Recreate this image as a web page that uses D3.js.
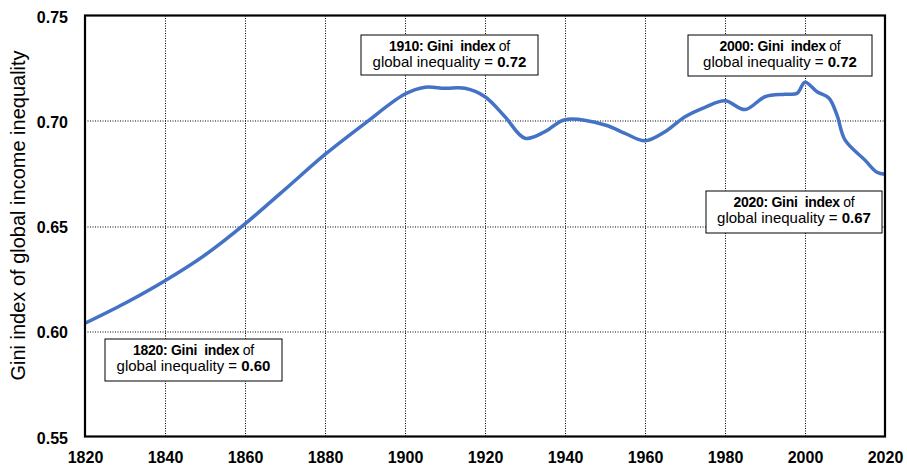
<!DOCTYPE html>
<html>
<head>
<meta charset="utf-8">
<script src="https://cdn.jsdelivr.net/npm/d3@7"></script>
<style>
  body { margin: 0; background: #fff; }
  svg { font-family: "Liberation Sans", Arial, sans-serif; }
</style>
</head>
<body>
<div id="chart"></div>
<script>
// Data
var years = [1820, 1830, 1840, 1850, 1860, 1870, 1880, 1890, 1900, 1905, 1910, 1915, 1920, 1925, 1930, 1935, 1940, 1950, 1955, 1960, 1965, 1970, 1975, 1980, 1985, 1990, 1995, 1998, 2000, 2003, 2006, 2008, 2010, 2015, 2018, 2020];
var gini = [0.6038, 0.6133, 0.624, 0.6362, 0.651, 0.6674, 0.684, 0.6988, 0.7127, 0.7159, 0.7154, 0.7154, 0.7114, 0.7019, 0.6917, 0.6948, 0.7005, 0.698, 0.694, 0.6905, 0.6948, 0.7019, 0.7064, 0.7095, 0.7053, 0.7114, 0.7126, 0.713, 0.7183, 0.7138, 0.7107, 0.7027, 0.6909, 0.6813, 0.6755, 0.6746];
var xTicks = [1820, 1840, 1860, 1880, 1900, 1920, 1940, 1960, 1980, 2000, 2020];
var yTicks = [0.55, 0.60, 0.65, 0.70, 0.75];
var notes = [
  {year: 1910, value: "0.72"},
  {year: 2000, value: "0.72"},
  {year: 2020, value: "0.67"},
  {year: 1820, value: "0.60"}
];
// annotation box placement (px inside plot)
var noteBoxes = [
  {x: 276, y: 19.5, w: 177, h: 40},
  {x: 603, y: 19.5, w: 184, h: 41},
  {x: 621, y: 175.5, w: 176, h: 42},
  {x: 20, y: 323.5, w: 177, h: 42}
];

var margin = {top: 15.5, right: 22, bottom: 32.5, left: 85},
    width = 907 - margin.left - margin.right,
    height = 469 - margin.top - margin.bottom;

var svg = d3.select("#chart")
  .append("svg")
    .attr("width", 907)
    .attr("height", 469)
  .append("g")
    .attr("transform", "translate(" + margin.left + "," + margin.top + ")");

var x = d3.scaleLinear().domain([1820, 2020]).range([0, width]);
var y = d3.scaleLinear().domain([0.55, 0.75]).range([height, 0]);

// grid
svg.append("g")
  .selectAll("line")
  .data(xTicks.slice(1, -1))
  .enter().append("line")
    .attr("x1", function(d) { return Math.round(x(d)) + 0.5; })
    .attr("x2", function(d) { return Math.round(x(d)) + 0.5; })
    .attr("y1", 0).attr("y2", height)
    .attr("stroke", "#000")
    .attr("stroke-dasharray", "1,1.5");
svg.append("g")
  .selectAll("line")
  .data(yTicks.slice(1, -1))
  .enter().append("line")
    .attr("y1", function(d) { return Math.round(y(d)) + 0.5; })
    .attr("y2", function(d) { return Math.round(y(d)) + 0.5; })
    .attr("x1", 0).attr("x2", width)
    .attr("stroke", "#000")
    .attr("stroke-dasharray", "1,1.5");

// line
var line = d3.line()
  .x(function(d, i) { return x(years[i]); })
  .y(function(d) { return y(d); })
  .curve(d3.curveCatmullRom.alpha(0.5));

svg.append("path")
  .datum(gini)
  .attr("fill", "none")
  .attr("stroke", "#4472C4")
  .attr("stroke-width", 3.5)
  .attr("d", line);

// frame
svg.append("rect")
  .attr("x", 0).attr("y", 0)
  .attr("width", width).attr("height", height)
  .attr("fill", "none")
  .attr("stroke", "#000")
  .attr("stroke-width", 2.2);

// axes
var xAxis = svg.append("g")
  .attr("transform", "translate(0," + height + ")")
  .call(d3.axisBottom(x).tickValues(xTicks).tickFormat(d3.format("d")).tickSize(0).tickPadding(15));
var yAxis = svg.append("g")
  .call(d3.axisLeft(y).tickValues(yTicks).tickFormat(d3.format(".2f")).tickSize(0).tickPadding(17));
[xAxis, yAxis].forEach(function(a) {
  a.select(".domain").remove();
  a.selectAll("text")
    .attr("font-family", "'Liberation Sans', Arial, sans-serif")
    .style("font-size", "16px")
    .style("font-weight", "bold")
    .attr("fill", "#000");
});
yAxis.selectAll("text").attr("dy", "0.42em");

// y axis label
svg.append("text")
  .attr("transform", "rotate(-90)")
  .attr("x", -200)
  .attr("y", -60)
  .attr("text-anchor", "middle")
  .style("font-size", "20px")
  .attr("fill", "#000")
  .text("Gini index of global income inequality");

// annotation boxes
notes.forEach(function(n, i) {
  var b = noteBoxes[i];
  var g = svg.append("g");
  g.append("rect")
    .attr("x", b.x).attr("y", b.y)
    .attr("width", b.w).attr("height", b.h)
    .attr("fill", "#fff")
    .attr("stroke", "#000")
    .attr("stroke-width", 1);
  var t1 = g.append("text")
    .attr("x", b.x + b.w / 2)
    .attr("y", b.y + 15.8)
    .attr("text-anchor", "middle")
    .style("letter-spacing", "-0.3px")
    .style("font-size", "14px");
  t1.append("tspan").style("font-weight", "bold").text(n.year + ": Gini\u00a0 index");
  t1.append("tspan").text(" of");
  var t2 = g.append("text")
    .attr("x", b.x + b.w / 2)
    .attr("y", b.y + 32.3)
    .attr("text-anchor", "middle")
    .style("font-size", "15px");
  t2.append("tspan").text("global inequality = ");
  t2.append("tspan").style("font-weight", "bold").text(n.value);
});
</script>
</body>
</html>
